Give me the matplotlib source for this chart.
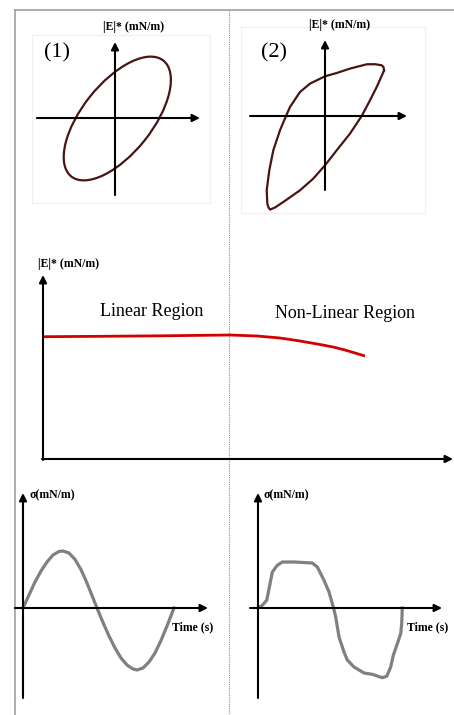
import matplotlib
matplotlib.use("Agg")
import matplotlib.pyplot as plt
from matplotlib.patches import Ellipse, Rectangle

plt.rcParams['font.family'] = ['Liberation Serif', 'DejaVu Serif']

W, H = 454, 715

# --- data (schematic units, px relative to each panel's origin) ---------------
# panel (1): linear Lissajous ellipse
ELL_CENTER = (2.3, -0.5)
ELL_WIDTH, ELL_HEIGHT, ELL_ANGLE = 148, 70, 51.5

# panel (2): non-linear Lissajous loop (closed)
loop_x = [59, 58.5, 56.7, 50, 41.7, 25, 11.7, 0, -15, -25, -35, -39, -45,
          -51.7, -55.7, -58.3, -57.7, -56.5, -55, -50, -41.7, -25, -11.7, 0,
          11.7, 25, 36.7, 45, 51.7, 57.7, 59]
loop_y = [45.7, 49, 50.7, 51.8, 51.7, 47.4, 43, 39.7, 32.4, 24, 9, 0, -14.3,
          -34.3, -54.3, -74.3, -87.6, -91.5, -93.6, -91.5, -86, -74.3, -62.6,
          -49.3, -34.3, -17.6, 0, 15.7, 29, 42.4, 45.7]

# amplitude sweep: |E|* vs strain amplitude
sweep_x = [0, 60, 120, 187, 214, 237, 257, 277, 290, 302, 322]
sweep_y = [122.3, 122.7, 123.2, 124, 123, 121, 118, 114.5, 112, 109, 103]

# stress response, linear (sine)
sine_t = [0, 6, 12, 18, 24, 30, 36, 40, 46, 52, 58, 64, 70, 74, 80, 86, 92, 98,
          104, 110, 114, 120, 126, 132, 138, 144, 151]
sine_s = [0, 13, 26, 37, 46, 53, 56.5, 57, 55, 48.6, 38.4, 25, 10, 0, -14.5,
          -28, -40, -50, -57, -61, -62, -60, -54, -45, -32.5, -18, 0]

# stress response, non-linear (distorted)
dist_t = [0, 4.3, 8.7, 12, 14.3, 19.3, 24.3, 36, 54.3, 59.3, 66, 71, 75.3, 77.7,
          81, 86, 89.3, 96, 106, 114.3, 124.3, 128.7, 132.7, 135.3, 139.3,
          142.7, 143.7, 144.3]
dist_s = [0, 2.7, 7.7, 24, 36, 42.7, 46, 46, 45, 41, 27.7, 16, 1, -9,
          -29, -44, -52, -59, -65, -66.3, -69.7, -68.3, -59, -47.3, -35.7,
          -25.7, -15.7, 0]

LOOP_COLOR = '#4a1414'
WAVE_COLOR = '#808080'
RED = '#d40000'

fig = plt.figure(figsize=(W / 100, H / 100), dpi=100)

# background frame
bg = fig.add_axes([0, 0, 1, 1])
bg.set_xlim(0, W)
bg.set_ylim(H, 0)
bg.axis('off')
bg.plot([15, 15], [9.5, H], color='#a0a0a0', lw=1.2)
bg.plot([15, W], [9.5, 9.5], color='#a0a0a0', lw=1.2)
bg.plot([229, 229], [9.5, H], color='#8c8c8c', lw=0.8, ls=(0, (1, 1)))
bg.add_patch(Rectangle((32, 35), 178, 168, fill=False, ec='#efefef', lw=0.8))
bg.add_patch(Rectangle((241, 27), 184, 186, fill=False, ec='#efefef', lw=0.8))


def panel(ox, oy, x0, x1, y0, y1):
    ax = fig.add_axes([x0 / W, 1 - y1 / H, (x1 - x0) / W, (y1 - y0) / H])
    ax.set_xlim(x0 - ox, x1 - ox)
    ax.set_ylim(oy - y1, oy - y0)
    ax.axis('off')
    return ax


def arrow(ax, start, end):
    ax.annotate('', xy=end, xytext=start,
                arrowprops=dict(arrowstyle='-|>', color='black', lw=1.5,
                                mutation_scale=11, shrinkA=0, shrinkB=0))


lab = dict(fontsize=8.5, fontweight='bold', va='center', ha='left')

# (1) linear loop
ax1 = panel(115, 118, 30, 212, 15, 205)
arrow(ax1, (-78, 0), (85, 0))
arrow(ax1, (0, -77), (0, 76))
ax1.add_patch(Ellipse(ELL_CENTER, ELL_WIDTH, ELL_HEIGHT, angle=ELL_ANGLE,
                      fill=False, ec=LOOP_COLOR, lw=1.6))
ax1.text(-12, 91, '|E|* (mN/m)', **lab)
ax1.text(-58, 65, '(1)', fontsize=16, ha='center', va='center')

# (2) non-linear loop
ax2 = panel(325, 116, 240, 430, 15, 215)
arrow(ax2, (-75, 0), (82, 0))
arrow(ax2, (0, -74), (0, 76))
ax2.plot(loop_x, loop_y, color=LOOP_COLOR, lw=1.6, solid_joinstyle='round')
ax2.text(-16, 91, '|E|* (mN/m)', **lab)
ax2.text(-51, 63, '(2)', fontsize=16, ha='center', va='center')

# amplitude sweep
ax3 = panel(43, 459, 30, 454, 255, 470)
arrow(ax3, (-1, 0), (410, 0))
arrow(ax3, (0, -1), (0, 184))
ax3.plot(sweep_x, sweep_y, color=RED, lw=2.0, solid_capstyle='butt')
ax3.text(-5, 195, '|E|* (mN/m)', **lab)
ax3.text(109, 147, 'Linear Region', fontsize=13, ha='center', va='center')
ax3.text(302, 145, 'Non-Linear Region', fontsize=13, ha='center', va='center')

# stress vs time, linear
ax4 = panel(23, 608, 8, 227, 485, 705)
arrow(ax4, (-8, 0), (185, 0))
arrow(ax4, (0, -90), (0, 115))
ax4.plot(sine_t, sine_s, color=WAVE_COLOR, lw=2.3, solid_joinstyle='round')
ax4.text(7, 113, 'σ(mN/m)', **lab)
ax4.text(149, -19, 'Time (s)', **lab)

# stress vs time, non-linear
ax5 = panel(258, 608, 240, 454, 485, 705)
arrow(ax5, (-8, 0), (184, 0))
arrow(ax5, (0, -90), (0, 115))
ax5.plot(dist_t, dist_s, color=WAVE_COLOR, lw=2.3, solid_joinstyle='round')
ax5.text(6, 113, 'σ(mN/m)', **lab)
ax5.text(149, -19, 'Time (s)', **lab)

fig.savefig('out.png', dpi=100)
